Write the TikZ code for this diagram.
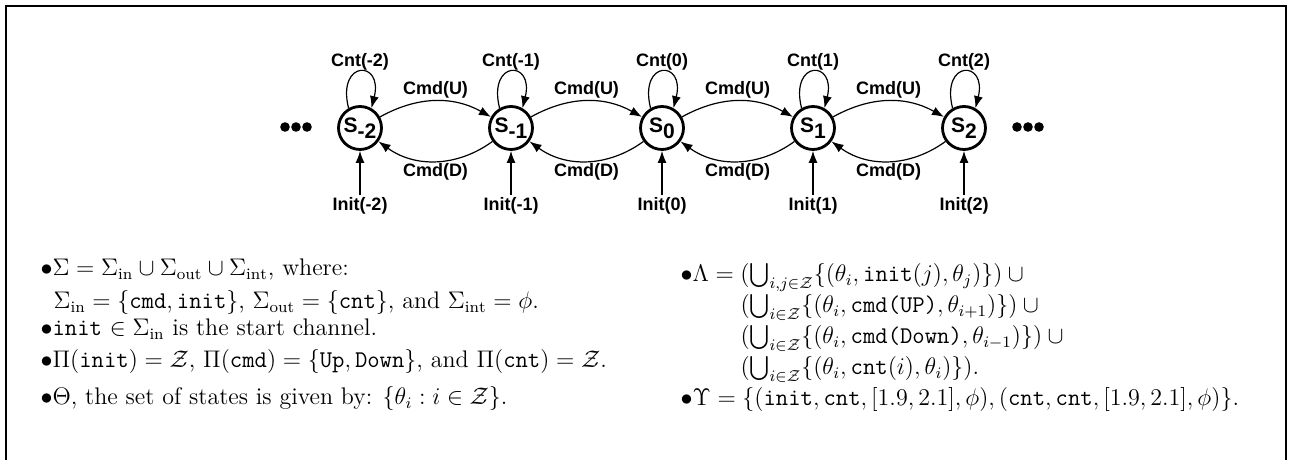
\documentclass[tikz,border=0pt]{standalone}
\usepackage{fontspec}
\setsansfont{Liberation Sans}
\usepackage{amsmath}
\usetikzlibrary{arrows.meta}

\tikzset{
  state/.style={circle,draw,line width=1.4pt,minimum size=21.5pt,inner sep=0pt,
    font=\sffamily\bfseries\fontsize{10.5}{12}\selectfont},
  lbl/.style={font=\sffamily\bfseries\fontsize{9}{11}\selectfont,inner sep=1pt},
  txt/.style={anchor=base west,inner sep=0pt,font=\fontsize{12}{14}\selectfont},
}

\begin{document}
\begin{tikzpicture}[x=0.5pt,y=0.5pt,>={Latex[length=6pt,width=4.5pt]},line width=0.6pt]
		\useasboundingbox (0,0) rectangle (1296,460);
		% frame
		\draw[line width=1.3pt] (6,0) |- (1286,454) -- (1286,0);

		% states, self loops and init arrows
		\foreach \n/\i in {sm2/-2,sm1/-1,s0/0,s1/1,s2/2} {
			\node[state] (\n) at (662+151*\i,332) {S\raisebox{-0.55ex}{\i}};
			\draw[->] (\n.120) .. controls +(104:50) and +(76:50) .. (\n.60)
				node[lbl,pos=0.5,above,inner sep=0.5pt] (c\n) {Cnt(\i)};
			\node[lbl] (i\n) at (662+151*\i,254) {Init(\i)};
			\draw[->] (i\n) -- (\n);
		}

		% up / down commands
		\foreach \a/\b in {sm2/sm1,sm1/s0,s0/s1,s1/s2} {
			\draw[->] (\a) to[bend left=29] node[lbl,above] (u\a) {Cmd(U)} (\b);
			\draw[->] (\b) to[bend left=36] node[lbl,below] (d\a) {Cmd(D)} (\a);
		}

		% dots
		\foreach \x in {285,296,307} {
			\fill (\x,333) circle (4.8);
			\fill (\x+732,333) circle (4.8);
		}

		%% left column
		\node[txt] (sig) at (40,184) {$\bullet\Sigma = \Sigma_{\mathrm{in}} \cup \Sigma_{\mathrm{out}} \cup \Sigma_{\mathrm{int}}$, where:};
		\node[txt] (sigin) at (53,151) {$\Sigma_{\mathrm{in}} = \{\texttt{cmd}, \texttt{init}\}$, $\Sigma_{\mathrm{out}} = \{\texttt{cnt}\}$, and $\Sigma_{\mathrm{int}} = \phi$.};
		\node[txt] (start) at (40,124) {$\bullet$\texttt{init} $\in \Sigma_{\mathrm{in}}$ is the start channel.};
		\node[txt] (pi) at (40,92) {$\bullet\Pi(\texttt{init}) = \mathcal{Z}$, $\Pi(\texttt{cmd}) = \{\texttt{Up}, \texttt{Down}\}$, and $\Pi(\texttt{cnt}) = \mathcal{Z}$.};
		\node[txt] (theta) at (40,55) {$\bullet\Theta$, the set of states is given by: $\{\theta_i : i \in \mathcal{Z}\}$.};

		%% right column
		\node[txt] (lam1) at (680,178) {$\bullet\Lambda = (\bigcup_{i,j\in\mathcal{Z}}\{(\theta_i, \texttt{init}(j), \theta_j)\}) \cup{}$};
		\node[txt] (lam2) at (680,147) {$\hphantom{\bullet\Lambda={}}(\bigcup_{i\in\mathcal{Z}}\{(\theta_i, \texttt{cmd(UP)}, \theta_{i+1})\}) \cup{}$};
		\node[txt] (lam3) at (680,116) {$\hphantom{\bullet\Lambda={}}(\bigcup_{i\in\mathcal{Z}}\{(\theta_i, \texttt{cmd(Down)}, \theta_{i-1})\}) \cup{}$};
		\node[txt] (lam4) at (680,85) {$\hphantom{\bullet\Lambda={}}(\bigcup_{i\in\mathcal{Z}}\{(\theta_i, \texttt{cnt}(i), \theta_i)\})$.};
		\node[txt] (ups) at (680,54) {$\bullet\Upsilon = \{(\texttt{init}, \texttt{cnt}, [1.9, 2.1], \phi), (\texttt{cnt}, \texttt{cnt}, [1.9, 2.1], \phi)\}$.};
\end{tikzpicture}
\end{document}
